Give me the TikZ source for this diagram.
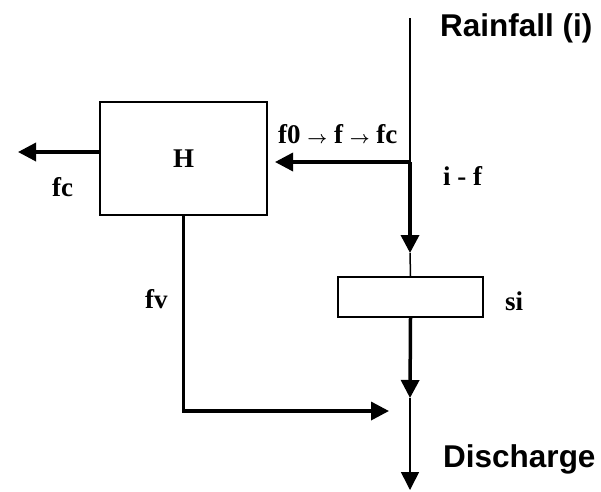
\documentclass[tikz,border=0pt]{standalone}
\usepackage{fontspec}
\setmainfont{Liberation Serif}
\newfontfamily\headfont{Liberation Sans}
\usetikzlibrary{arrows.meta}

\newcommand\flowarrow{{\fontsize{17}{17}\selectfont\boldmath$\rightarrow$}}

\begin{document}
\begin{tikzpicture}[
    x=1pt, y=-1pt,
    >={Triangle[length=18pt, width=18pt]},
    line/.style  = {line width=1.5pt},
    heavy/.style = {line width=3.5pt, line join=miter},
    block/.style = {draw, line width=1.5pt, inner sep=0pt},
    sig/.style   = {inner sep=0pt, anchor=base west,
                    font=\fontsize{27}{27}\selectfont\bfseries},
    head/.style  = {inner sep=0pt, anchor=base west,
                    font=\headfont\fontsize{31.5}{31.5}\selectfont\bfseries}
]
\useasboundingbox (0,0) rectangle (601,491);

% stores
\node[block, minimum width=167pt, minimum height=113pt] (hbox) at (183.5,158.5) {};
\node[sig, anchor=center] (hlabel) at (hbox.center) {H};
\node[block, minimum width=145pt, minimum height=40pt] (sibox) at (410.5,297) {};

% main stream points
\coordinate (top)    at (410,18);
\coordinate (split)  at (410,162);
\coordinate (intip)  at (410,253);
\coordinate (outtip) at (410,398);
\coordinate (bottom) at (410,490);

% side ends
\coordinate (hin)    at (275,162);
\coordinate (fcend)  at (18,152);
\coordinate (fvend)  at (389,411);

% rainfall -> split -> store si -> discharge
\draw[line] (top) -- (split);
\draw[->, heavy] (split) -- (intip);
\draw[line] (intip) -- (sibox.north);
\draw[->, heavy] (sibox.south) -- (outtip);
\draw[->, line] (outtip) -- (bottom);

% infiltration into H, losses out of H
\draw[->, heavy] (split) -- (hin);
\draw[->, heavy] (hbox.west |- fcend) -- (fcend);
\draw[->, heavy] (hbox.south) |- (fvend);

% labels
\node[head] (rain)  at (440,36)  {Rainfall (i)};
\node[head] (disch) at (443,467) {Discharge};
\node[sig]  (iminf) at (443,185) {i - f};
\node[sig]  (frate) at (278,143) {f0 \flowarrow{} f \flowarrow{} fc};
\node[sig]  (fc)    at (52,196)  {fc};
\node[sig]  (fv)    at (145,308) {fv};
\node[sig]  (si)    at (505,310) {si};

\end{tikzpicture}
\end{document}
